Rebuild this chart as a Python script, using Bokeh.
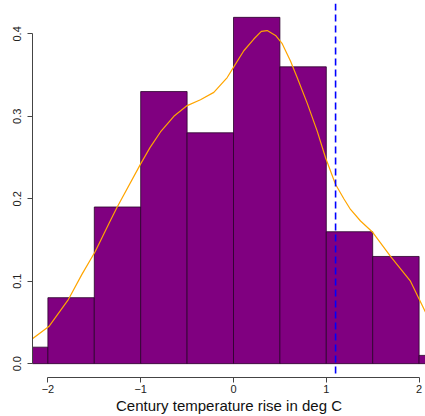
from bokeh.plotting import figure
from bokeh.models import Span, Range1d, FixedTicker
from bokeh.embed import file_html
from bokeh.resources import INLINE

# Histogram (density) of century temperature rise, bin width 0.5
bin_left = [-2.5, -2.0, -1.5, -1.0, -0.5, 0.0, 0.5, 1.0, 1.5, 2.0]
bin_right = [-2.0, -1.5, -1.0, -0.5, 0.0, 0.5, 1.0, 1.5, 2.0, 2.5]
density = [0.02, 0.08, 0.19, 0.33, 0.28, 0.42, 0.36, 0.16, 0.13, 0.01]

# Kernel density estimate
kde_x = [-2.17, -1.99, -1.778, -1.635, -1.49, -1.329, -1.253, -1.002, -0.9,
         -0.787, -0.643, -0.499, -0.356, -0.212, -0.068, 0.003, 0.111, 0.219,
         0.30, 0.363, 0.453, 0.525, 0.614, 0.686, 0.794, 0.902, 0.991, 1.099,
         1.189, 1.261, 1.369, 1.494, 1.692, 1.907, 2.08]
kde_y = [0.030, 0.045, 0.078, 0.108, 0.136, 0.173, 0.190, 0.242, 0.262,
         0.281, 0.300, 0.313, 0.320, 0.329, 0.347, 0.360, 0.3795, 0.3937,
         0.403, 0.404, 0.398, 0.388, 0.367, 0.347, 0.316, 0.282, 0.250, 0.2175,
         0.200, 0.187, 0.173, 0.160, 0.130, 0.100, 0.060]

marker_x = 1.1
x_ticks = [-2, -1, 0, 1, 2]
y_ticks = [0.0, 0.1, 0.2, 0.3, 0.4]
y_tick_labels = {0.0: "0.0", 0.1: "0.1", 0.2: "0.2", 0.3: "0.3", 0.4: "0.4"}

FONT = "Liberation Sans"

p = figure(width=425, height=416, output_backend="svg", toolbar_location=None,
           x_range=Range1d(-2.166, 2.069), y_range=Range1d(-0.0168, 0.4368),
           min_border_left=32, min_border_right=0, min_border_top=3,
           min_border_bottom=39)
p.outline_line_color = None
p.xgrid.visible = False
p.ygrid.visible = False
p.background_fill_color = "white"
p.border_fill_color = "white"

p.quad(left=bin_left, right=bin_right, bottom=0, top=density,
       fill_color="#800080", line_color="#2a002a", line_width=0.8)

p.line(kde_x, kde_y, line_color="#FFA500", line_width=1.2)

p.add_layout(Span(location=marker_x, dimension="height", line_color="blue",
                  line_width=1.6, line_dash="7 4"))

for ax in (p.xaxis[0], p.yaxis[0]):
    ax.axis_line_color = "#444444"
    ax.major_tick_line_color = "#444444"
    ax.minor_tick_line_color = None
    ax.major_tick_in = 0
    ax.major_tick_out = 5
    ax.major_label_text_font = FONT
    ax.major_label_text_font_size = "11px"
    ax.major_label_text_color = "#222222"
    ax.axis_label_text_font = FONT
    ax.axis_label_text_font_style = "normal"

p.xaxis.ticker = FixedTicker(ticks=x_ticks)
p.xaxis.bounds = (-2, 2)
p.xaxis.major_label_standoff = 2
p.xaxis.axis_label = "Century temperature rise in deg C"
p.xaxis.axis_label_text_font_size = "15px"
p.xaxis.axis_label_text_color = "#111111"
p.xaxis.axis_label_standoff = 1

p.yaxis.ticker = FixedTicker(ticks=y_ticks)
p.yaxis.major_label_overrides = y_tick_labels
p.yaxis.bounds = (0, 0.4)
p.yaxis.major_label_orientation = "vertical"
p.yaxis.major_label_standoff = 6

open("out.html", "w").write(file_html(p, INLINE))
